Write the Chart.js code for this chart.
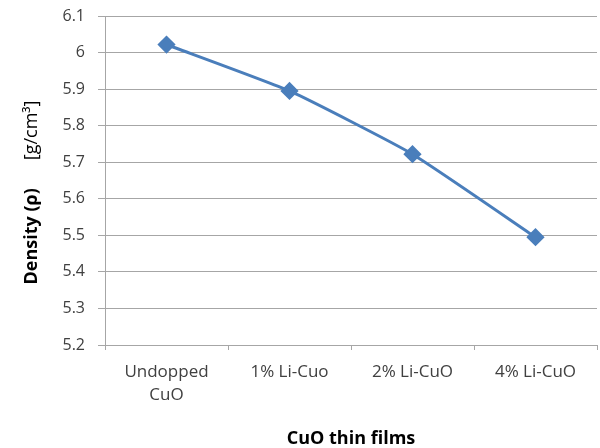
<!DOCTYPE html>
<html>
<head>
<meta charset="utf-8">
<script src="https://cdn.jsdelivr.net/npm/chart.js@4.4.0/dist/chart.umd.min.js"></script>
<style>
  body { margin: 0; background: #fff; }
  #wrap { width: 600px; height: 448px; }
</style>
</head>
<body>
<div id="wrap"><canvas id="my-chart"></canvas></div>
<script>
// data
var categories = [['Undopped', 'CuO'], '1% Li-Cuo', '2% Li-CuO', '4% Li-CuO'];
var densityValues = [6.022, 5.895, 5.722, 5.495];
var yTicks = [5.2, 5.3, 5.4, 5.5, 5.6, 5.7, 5.8, 5.9, 6, 6.1];
var yTitleBold = 'Density (\u03c1)';
var yTitleUnit = '[g/cm\u00b3]';

var lineBlue = '#4a7ebb';
var gridGray = '#a6a6a6';
var textGray = '#404040';
var fontName = '"Open Sans", "Liberation Sans", sans-serif';

// y title has a bold part and a plain part, so draw it by hand
var yTitlePlugin = {
  id: 'yTitle',
  afterDraw: function (chart) {
    var c = chart.ctx;
    var area = chart.chartArea;
    var boldFont = 'bold 18px ' + fontName;
    var plainFont = '18px ' + fontName;
    c.save();
    c.font = boldFont;
    var w1 = c.measureText(yTitleBold).width + 28;
    c.font = plainFont;
    var w2 = c.measureText(yTitleUnit).width;
    var total = w1 + w2;
    var cy = (area.top + area.bottom) / 2 + 12;
    c.translate(32, cy);
    c.rotate(-Math.PI / 2);
    c.textBaseline = 'middle';
    c.textAlign = 'left';
    c.fillStyle = '#000';
    c.font = boldFont;
    c.fillText(yTitleBold, -total / 2, 0);
    c.font = plainFont;
    c.fillText(yTitleUnit, -total / 2 + w1, 0);
    c.restore();
  }
};

var ctx = document.getElementById('my-chart');
var densityChart = new Chart(ctx, {
  type: 'line',
  data: {
    labels: categories,
    datasets: [{
      label: 'Density',
      data: densityValues,
      borderColor: lineBlue,
      backgroundColor: lineBlue,
      borderWidth: 3,
      tension: 0.15,
      pointStyle: 'rectRot',
      pointRadius: 7,
      pointHoverRadius: 7
    }]
  },
  plugins: [yTitlePlugin],
  options: {
    responsive: true,
    maintainAspectRatio: false,
    animation: false,
    layout: {
      autoPadding: false,
      padding: { top: 16, right: 3, left: 0, bottom: 0 }
    },
    plugins: {
      legend: { display: false },
      tooltip: { enabled: false }
    },
    scales: {
      x: {
        offset: true,
        afterFit: function (scale) {
          scale.height = 103;
          scale.paddingLeft = 0;
          scale.paddingRight = 0;
        },
        grid: {
          offset: true,
          drawOnChartArea: false,
          drawTicks: true,
          tickLength: 5,
          color: gridGray
        },
        border: { color: gridGray, width: 1 },
        ticks: {
          color: textGray,
          font: { family: fontName, size: 17, lineHeight: 1.35 },
          padding: 11,
          maxRotation: 0
        },
        title: {
          display: true,
          text: 'CuO thin films',
          color: '#000',
          font: { family: fontName, size: 18, weight: 'bold' },
          padding: { top: 0, bottom: -2 }
        }
      },
      y: {
        min: 5.2,
        max: 6.1,
        afterBuildTicks: function (scale) {
          scale.ticks = yTicks.map(function (v) { return { value: v }; });
        },
        afterFit: function (scale) {
          scale.width = 105;
          scale.paddingTop = 0;
          scale.paddingBottom = 0;
        },
        grid: {
          color: gridGray,
          tickLength: 7
        },
        border: { color: gridGray, width: 1 },
        ticks: {
          color: textGray,
          font: { family: fontName, size: 16 },
          padding: 13,
          callback: function (v) { return String(Math.round(v * 10) / 10); }
        }
      }
    }
  }
});
</script>
</body>
</html>
